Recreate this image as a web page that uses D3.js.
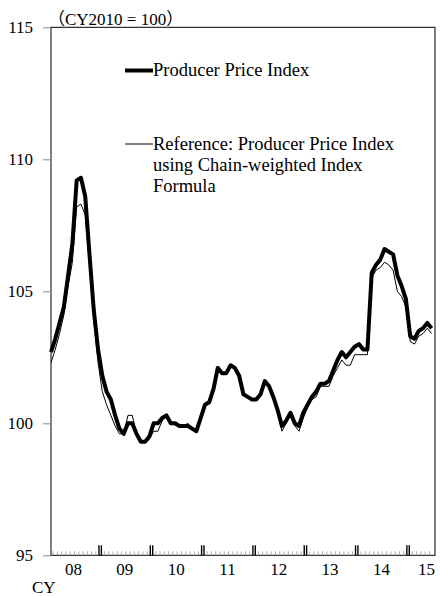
<!DOCTYPE html>
<html>
<head>
<meta charset="utf-8">
<script src="https://cdn.jsdelivr.net/npm/d3@7"></script>
<style>
  body { margin: 0; background: #fff; }
  text { font-family: "Liberation Serif", "Noto Sans CJK JP", serif; fill: #000; }
</style>
</head>
<body>
<svg id="chart" width="440" height="596"></svg>
<script>
// monthly, Jan 2008 - Jun 2015
const startYear = 2008;
const yearLabels = ["08", "09", "10", "11", "12", "13", "14", "15"];
const yTicks = [95, 100, 105, 110, 115];

const ppi = [
  102.7, 103.2, 103.8, 104.4, 105.6, 106.8, 109.2, 109.3, 108.6, 106.4, 104.3, 102.8,
  101.8, 101.2, 100.9, 100.3, 99.8, 99.6, 100.0, 100.0, 99.6, 99.3, 99.3, 99.5,
  100.0, 100.0, 100.2, 100.3, 100.0, 100.0, 99.9, 99.9, 99.9, 99.8, 99.7, 100.2,
  100.7, 100.8, 101.3, 102.1, 101.9, 101.9, 102.2, 102.1, 101.8, 101.1, 101.0, 100.9,
  100.9, 101.1, 101.6, 101.4, 101.0, 100.5, 99.9, 100.1, 100.4, 100.0, 99.9, 100.4,
  100.7, 101.0, 101.2, 101.5, 101.5, 101.6, 102.0, 102.4, 102.7, 102.5, 102.7, 102.9,
  103.0, 102.8, 102.8, 105.7, 106.0, 106.2, 106.6, 106.5, 106.4, 105.6, 105.2, 104.7,
  103.3, 103.2, 103.5, 103.6, 103.8, 103.6
];

const ppiChain = [
  102.3, 102.8, 103.4, 104.1, 105.2, 106.1, 108.2, 108.3, 107.9, 106.0, 103.9, 102.3,
  101.2, 100.7, 100.3, 99.9, 99.6, 99.6, 100.3, 100.3, 99.6, 99.3, 99.3, 99.4,
  99.7, 99.7, 100.1, 100.3, 100.0, 100.0, 99.9, 99.9, 100.0, 99.8, 99.7, 100.2,
  100.7, 100.8, 101.3, 102.1, 101.9, 101.9, 102.2, 102.1, 101.8, 101.1, 101.0, 100.9,
  100.9, 101.1, 101.6, 101.4, 101.0, 100.4, 99.7, 100.0, 100.4, 99.9, 99.7, 100.2,
  100.6, 100.9, 101.0, 101.4, 101.4, 101.4, 101.8, 102.1, 102.4, 102.2, 102.2, 102.6,
  102.6, 102.6, 102.6, 105.5, 105.8, 105.9, 106.1, 106.0, 105.8, 105.0, 104.8, 104.4,
  103.1, 103.0, 103.3, 103.4, 103.6, 103.4
];

const margin = { left: 51, right: 435, top: 27.3, bottom: 555.3 };
const nMonths = ppi.length;

const svg = d3.select("#chart");

const x = d3.scaleLinear()
  .domain([0, nMonths - 0.2])
  .range([margin.left, margin.right]);

const y = d3.scaleLinear()
  .domain([95, 115])
  .range([margin.bottom, margin.top]);

// frame
svg.append("rect")
  .attr("x", margin.left)
  .attr("y", margin.top)
  .attr("width", margin.right - margin.left)
  .attr("height", margin.bottom - margin.top)
  .attr("fill", "none")
  .attr("stroke", "#000")
  .attr("stroke-width", 1);

// y axis
const yAxis = d3.axisLeft(y)
  .tickValues(yTicks)
  .tickSize(8)
  .tickPadding(10)
  .tickFormat(d3.format("d"));

const gy = svg.append("g")
  .attr("transform", `translate(${margin.left},0)`)
  .call(yAxis);
gy.select(".domain").remove();
gy.selectAll(".tick line").attr("stroke", "#888");
gy.selectAll(".tick text")
  .attr("font-size", 17)
  .style("font-family", "'Liberation Serif', serif");

// x axis: monthly minor ticks, double major ticks at year breaks
const monthBreaks = d3.range(1, nMonths).map(i => i - 0.5);
svg.append("g")
  .selectAll("line")
  .data(monthBreaks.filter(m => (m + 0.5) % 12 !== 0))
  .enter().append("line")
  .attr("x1", d => x(d))
  .attr("x2", d => x(d))
  .attr("y1", margin.bottom)
  .attr("y2", margin.bottom - 4)
  .attr("stroke", "#aaa")
  .attr("stroke-width", 1);

const yearBreaks = monthBreaks.filter(m => (m + 0.5) % 12 === 0);
[-1.2, 1.2].forEach(off => {
  svg.append("g")
    .selectAll("line")
    .data(yearBreaks)
    .enter().append("line")
    .attr("x1", d => x(d) + off)
    .attr("x2", d => x(d) + off)
    .attr("y1", margin.bottom)
    .attr("y2", margin.bottom - 10)
    .attr("stroke", "#000")
    .attr("stroke-width", 1.4);
});

svg.append("g")
  .selectAll("text")
  .data(yearLabels)
  .enter().append("text")
  .attr("x", (d, i) => i === yearLabels.length - 1 ? margin.right : x(i * 12 + 5.5) - 1)
  .attr("y", 575)
  .attr("text-anchor", (d, i) => i === yearLabels.length - 1 ? "end" : "middle")
  .attr("font-size", 17)
  .text(d => d);

svg.append("text")
  .attr("x", 32)
  .attr("y", 593)
  .attr("font-size", 17)
  .text("CY");

svg.append("text")
  .attr("x", 48)
  .attr("y", 25)
  .attr("font-size", 17)
  .text("（CY2010 = 100）");

// lines
const line = d3.line()
  .x((d, i) => x(i))
  .y(d => y(d));

svg.append("path")
  .datum(ppi)
  .attr("d", line)
  .attr("fill", "none")
  .attr("stroke", "#000")
  .attr("stroke-width", 4)
  .attr("stroke-linejoin", "round");

svg.append("path")
  .datum(ppiChain)
  .attr("d", line)
  .attr("fill", "none")
  .attr("stroke", "#000")
  .attr("stroke-width", 1);

// legend
svg.append("line")
  .attr("x1", 125).attr("x2", 153)
  .attr("y1", 70.5).attr("y2", 70.5)
  .attr("stroke", "#000").attr("stroke-width", 4);
svg.append("text")
  .attr("x", 153).attr("y", 76)
  .attr("font-size", 18.5)
  .text("Producer Price Index");

svg.append("line")
  .attr("x1", 125).attr("x2", 153)
  .attr("y1", 144).attr("y2", 144)
  .attr("stroke", "#000").attr("stroke-width", 1);
const refLines = ["Reference: Producer Price Index", "using Chain-weighted Index", "Formula"];
svg.append("text")
  .attr("font-size", 18.5)
  .selectAll("tspan")
  .data(refLines)
  .enter().append("tspan")
  .attr("x", 153)
  .attr("y", (d, i) => 150 + i * 21)
  .text(d => d);
</script>
</body>
</html>
